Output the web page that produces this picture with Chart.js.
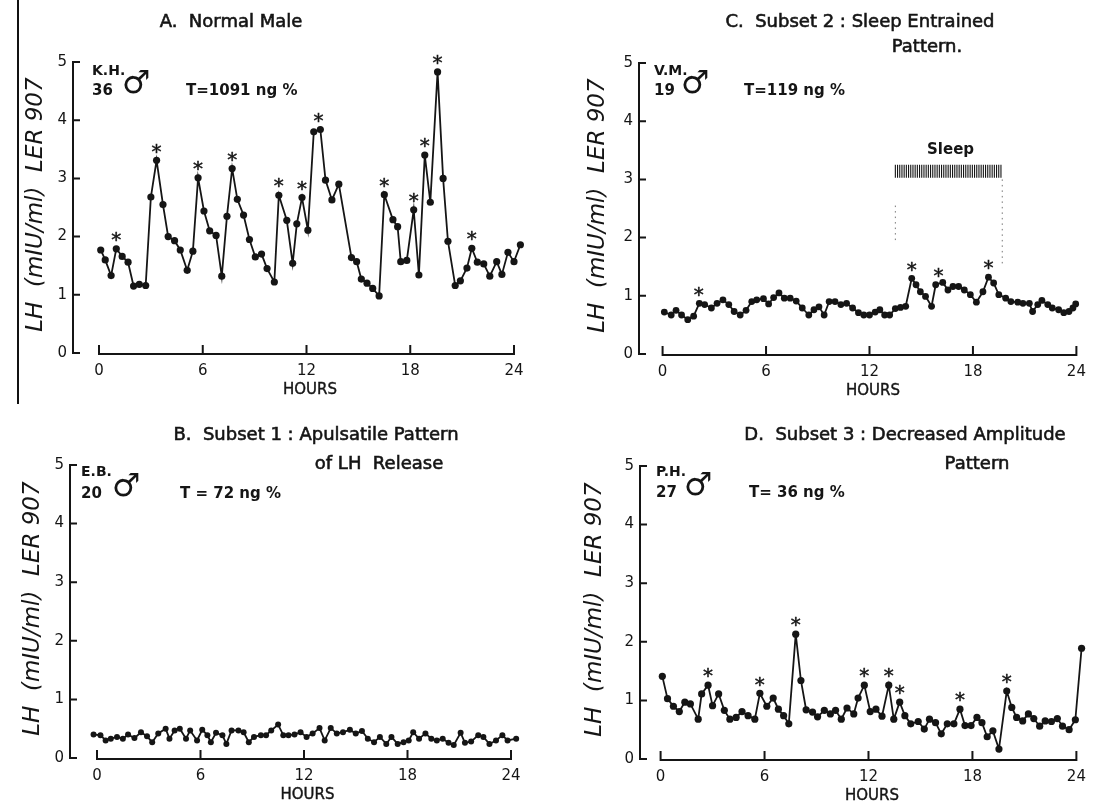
<!DOCTYPE html>
<html>
<head>
<meta charset="utf-8">
<script src="https://cdn.jsdelivr.net/npm/chart.js@4.4.0/dist/chart.umd.min.js"></script>
<style>
  body { margin: 0; background: #fff; width: 1095px; height: 803px; overflow: hidden; position: relative; }
  canvas { position: absolute; }
  #edge { position: absolute; left: 17px; top: 0; width: 2px; height: 404px; background: #111; }
</style>
</head>
<body>
<div id="edge"></div>
<canvas id="chartA" width="547" height="400" style="left:0;top:0"></canvas>
<canvas id="chartC" width="547" height="400" style="left:548px;top:0"></canvas>
<canvas id="chartB" width="547" height="400" style="left:0;top:403px"></canvas>
<canvas id="chartD" width="547" height="400" style="left:548px;top:403px"></canvas>
<script>
// tick labels
const xTicks = [0, 6, 12, 18, 24];
const yTicks = [0, 1, 2, 3, 4, 5];

// A. Normal male (K.H.)
const hoursA = [0.1,0.36,0.7,1.0,1.34,1.68,2.0,2.33,2.7,3.0,3.33,3.7,4.0,4.37,4.7,5.1,5.43,5.73,6.07,6.4,
  6.77,7.1,7.4,7.7,8.0,8.36,8.7,9.04,9.4,9.72,10.14,10.4,10.86,11.2,11.44,11.74,12.08,12.42,12.8,13.1,
  13.47,13.87,14.6,14.9,15.17,15.5,15.83,16.2,16.5,17.0,17.27,17.45,17.8,18.2,18.5,18.84,19.16,19.58,19.9,20.18,
  20.6,20.9,21.28,21.56,21.88,22.25,22.6,23.0,23.3,23.65,24.0,24.37];
const lhA = [1.77,1.60,1.33,1.79,1.66,1.56,1.15,1.18,1.16,2.68,3.31,2.55,2.0,1.93,1.77,1.42,1.75,3.01,2.44,2.10,
  2.02,1.32,2.35,3.17,2.64,2.37,1.95,1.65,1.70,1.45,1.22,2.71,2.28,1.54,2.22,2.67,2.11,3.80,3.84,2.97,
  2.63,2.90,1.64,1.57,1.27,1.20,1.11,0.98,2.72,2.29,2.17,1.57,1.59,2.46,1.34,3.40,2.59,4.83,3.0,1.92,
  1.16,1.24,1.46,1.80,1.56,1.53,1.32,1.57,1.35,1.73,1.57,1.86];
const peaksA = [1.0,3.33,5.73,7.7,10.4,11.74,12.7,16.5,18.2,18.84,19.58,21.56];

// B. Subset 1 (E.B.)
const hoursB = [-0.2,0.2,0.5,0.8,1.16,1.5,1.8,2.17,2.55,2.9,3.2,3.55,3.98,4.2,4.5,4.8,5.16,5.4,5.8,6.1,
  6.4,6.6,6.9,7.27,7.5,7.8,8.2,8.5,8.8,9.1,9.5,9.8,10.1,10.5,10.8,11.1,11.45,11.8,12.15,12.5,
  12.9,13.2,13.55,13.9,14.26,14.66,15.0,15.36,15.7,16.06,16.4,16.77,17.07,17.43,17.77,18.07,18.33,18.67,19.04,19.38,
  19.7,20.04,20.38,20.68,21.08,21.33,21.69,22.1,22.4,22.75,23.13,23.5,23.8,24.3];
const lhB = [0.40,0.39,0.30,0.33,0.36,0.33,0.40,0.34,0.44,0.37,0.27,0.42,0.50,0.33,0.47,0.50,0.33,0.47,0.30,0.48,
  0.39,0.27,0.43,0.39,0.24,0.47,0.47,0.44,0.27,0.36,0.39,0.39,0.47,0.57,0.39,0.39,0.40,0.44,0.36,0.42,
  0.51,0.30,0.51,0.42,0.44,0.48,0.42,0.46,0.33,0.27,0.36,0.24,0.36,0.24,0.27,0.30,0.44,0.33,0.42,0.33,
  0.30,0.33,0.26,0.22,0.43,0.26,0.28,0.39,0.36,0.24,0.30,0.39,0.30,0.33];

// C. Subset 2 (V.M.)
const hoursC = [0.1,0.5,0.78,1.1,1.46,1.8,2.13,2.44,2.83,3.16,3.5,3.84,4.15,4.5,4.84,5.17,5.46,5.85,
  6.15,6.44,6.75,7.06,7.4,7.75,8.1,8.48,8.78,9.07,9.37,9.66,10.0,10.34,10.67,11.02,11.36,11.67,
  12.0,12.33,12.6,12.88,13.17,13.5,13.8,14.1,14.45,14.7,14.95,15.25,15.6,15.84,16.25,16.55,16.84,17.17,
  17.5,17.85,18.2,18.58,18.9,19.2,19.5,19.9,20.2,20.6,20.9,21.27,21.46,21.76,22.0,22.34,22.6,22.97,
  23.27,23.57,23.8,23.96];
const lhC = [0.72,0.67,0.75,0.67,0.59,0.65,0.87,0.85,0.79,0.87,0.93,0.85,0.73,0.67,0.75,0.90,0.93,0.95,
  0.86,0.97,1.05,0.96,0.96,0.91,0.79,0.67,0.76,0.81,0.67,0.90,0.90,0.85,0.87,0.79,0.71,0.67,
  0.67,0.72,0.76,0.67,0.67,0.78,0.80,0.82,1.30,1.19,1.07,0.99,0.82,1.19,1.23,1.10,1.16,1.16,
  1.10,1.02,0.89,1.07,1.32,1.22,1.02,0.96,0.90,0.89,0.87,0.87,0.73,0.85,0.92,0.85,0.79,0.76,
  0.71,0.73,0.79,0.86];
const peaksC = [2.1,14.45,16.0,18.9];
const sleepC = [13.5, 19.7];

// D. Subset 3 (P.H.)
const hoursD = [0.1,0.4,0.74,1.08,1.4,1.72,2.17,2.37,2.74,3.0,3.35,3.68,4.0,4.36,4.7,5.05,5.44,5.73,6.13,6.5,
  6.8,7.1,7.4,7.8,8.1,8.4,8.77,9.06,9.45,9.8,10.1,10.43,10.76,11.15,11.4,11.76,12.1,12.43,12.78,13.17,
  13.46,13.8,14.1,14.44,14.87,15.22,15.52,15.87,16.2,16.55,16.93,17.28,17.57,17.92,18.26,18.55,18.85,19.18,19.53,19.98,
  20.27,20.55,20.9,21.23,21.54,21.88,22.2,22.56,22.9,23.2,23.58,23.94,24.3];
const lhD = [1.41,1.03,0.90,0.81,0.97,0.94,0.68,1.11,1.26,0.91,1.11,0.83,0.68,0.71,0.81,0.74,0.68,1.12,0.90,1.04,
  0.85,0.74,0.60,2.13,1.34,0.84,0.80,0.72,0.83,0.77,0.83,0.68,0.87,0.77,1.04,1.26,0.81,0.85,0.73,1.26,
  0.68,0.97,0.74,0.60,0.64,0.51,0.68,0.62,0.43,0.60,0.60,0.85,0.57,0.57,0.71,0.62,0.38,0.48,0.17,1.16,
  0.88,0.71,0.65,0.77,0.69,0.56,0.65,0.64,0.69,0.56,0.50,0.67,1.89];
const peaksD = [2.74,5.73,7.8,11.76,13.17,13.8,17.28,19.98];

const INK = '#151515';
const FONT = '"DejaVu Sans", sans-serif';
const yTitle = 'LH  (mIU/ml)  LER 907';

// draw text a little heavier than the regular face, like the printed figure
function inkText(ctx, text, x, y, weight) {
  ctx.fillText(text, x, y);
  ctx.lineWidth = weight;
  ctx.strokeText(text, x, y);
}

function makePanel(canvasId, p) {
  const canvas = document.getElementById(canvasId);
  const W = canvas.width, H = canvas.height;
  const perHour = (p.x24 - p.x0) / 24;
  const xMin = (p.axisX - p.x0) / perHour;
  const xMax = 24.5;
  const rightPx = p.x0 + xMax * perHour;
  const yW = 40, xH = 47;

  const paper = {
    id: 'paper',
    beforeDatasetsDraw(chart) {
      const { ctx, scales: { x, y } } = chart;
      const ax = x.left, y0 = y.getPixelForValue(0);
      ctx.save();
      ctx.strokeStyle = INK;
      ctx.lineWidth = 2;
      ctx.beginPath();
      ctx.moveTo(ax, y.getPixelForValue(5));
      ctx.lineTo(ax, y0);
      yTicks.forEach(v => {
        const py = y.getPixelForValue(v);
        ctx.moveTo(ax - 1, py);
        ctx.lineTo(ax + 7, py);
      });
      ctx.moveTo(x.getPixelForValue(0), y0 + 1);
      ctx.lineTo(x.getPixelForValue(24), y0 + 1);
      xTicks.forEach(v => {
        const px = x.getPixelForValue(v);
        ctx.moveTo(px, y0 + 2);
        ctx.lineTo(px, y0 - 8);
      });
      ctx.stroke();

      if (p.sleep) {
        const sx0 = x.getPixelForValue(p.sleep[0]), sx1 = x.getPixelForValue(p.sleep[1]);
        const top = y.getPixelForValue(3.25), bot = y.getPixelForValue(3.03);
        ctx.lineWidth = 1.1;
        ctx.beginPath();
        for (let px = sx0; px <= sx1; px += 2.2) {
          ctx.moveTo(px, top);
          ctx.lineTo(px, bot);
        }
        ctx.stroke();
        ctx.setLineDash([1.5, 4]);
        ctx.lineWidth = 1;
        ctx.strokeStyle = '#777';
        ctx.beginPath();
        ctx.moveTo(sx0, y.getPixelForValue(2.55));
        ctx.lineTo(sx0, y.getPixelForValue(1.95));
        ctx.moveTo(sx1, y.getPixelForValue(3.0));
        ctx.lineTo(sx1, y.getPixelForValue(1.55));
        ctx.stroke();
        ctx.setLineDash([]);
        ctx.fillStyle = INK;
        ctx.font = `bold 15px ${FONT}`;
        ctx.textAlign = 'center';
        ctx.textBaseline = 'middle';
        ctx.fillText('Sleep', x.getPixelForValue(16.7), y.getPixelForValue(3.5));
      }
      ctx.restore();
    },
    afterDraw(chart) {
      const { ctx, scales: { x, y } } = chart;
      ctx.save();
      ctx.fillStyle = INK;
      ctx.strokeStyle = INK;
      ctx.textBaseline = 'middle';

      // panel title
      ctx.font = `18px ${FONT}`;
      ctx.textAlign = 'center';
      p.titles.forEach(t => inkText(ctx, t.text, t.x, t.y, 0.6));

      // HOURS
      ctx.font = `15px ${FONT}`;
      inkText(ctx, 'HOURS', x.getPixelForValue(12.2), y.getPixelForValue(0) + 37, 0.4);

      // y axis title
      ctx.save();
      ctx.translate(p.yTitleX, y.getPixelForValue(2.55));
      ctx.rotate(-Math.PI / 2);
      ctx.font = `italic 23px ${FONT}`;
      ctx.fillText(yTitle, 0, 0);
      ctx.restore();

      // subject note
      ctx.textAlign = 'left';
      ctx.font = `bold 14px ${FONT}`;
      ctx.fillText(p.initials, p.noteX, p.noteY1);
      ctx.font = `bold 15px ${FONT}`;
      ctx.fillText(p.age, p.noteX, p.noteY2);
      ctx.fillText(p.testo, p.tX, p.noteY2);
      ctx.font = `32px ${FONT}`;
      ctx.fillText('\u2642', p.maleX, p.noteY2 - 6);

      // pulse asterisks
      if (p.peaks) {
        ctx.textAlign = 'center';
        ctx.font = `20px ${FONT}`;
        p.peaks.forEach(h => {
          let best = 0;
          p.hours.forEach((hh, i) => { if (Math.abs(hh - h) < Math.abs(p.hours[best] - h)) best = i; });
          inkText(ctx, '*', x.getPixelForValue(h), y.getPixelForValue(p.values[best]) - 8, 0.5);
        });
      }
      ctx.restore();
    }
  };

  return new Chart(canvas.getContext('2d'), {
    type: 'line',
    data: {
      datasets: [{
        data: p.hours.map((h, i) => ({ x: h, y: p.values[i] })),
        borderColor: INK,
        backgroundColor: INK,
        borderWidth: 1.8,
        pointRadius: p.radius,
        pointHoverRadius: p.radius,
        pointBorderWidth: 0,
        tension: 0,
        clip: false
      }]
    },
    options: {
      responsive: false,
      animation: false,
      events: [],
      layout: {
        padding: { left: p.axisX - yW, right: W - rightPx, top: p.top, bottom: H - p.bottom - xH }
      },
      plugins: { legend: { display: false }, tooltip: { enabled: false }, title: { display: false } },
      scales: {
        x: {
          type: 'linear',
          min: xMin,
          max: xMax,
          grid: { display: false, drawTicks: false },
          border: { display: false },
          afterBuildTicks: s => { s.ticks = xTicks.map(v => ({ value: v })); },
          afterFit: s => { s.height = xH; },
          ticks: { padding: 9, color: INK, autoSkip: false, maxRotation: 0, font: { family: FONT, size: 15 } }
        },
        y: {
          min: 0,
          max: 5,
          grid: { display: false, drawTicks: false },
          border: { display: false },
          afterBuildTicks: s => { s.ticks = yTicks.map(v => ({ value: v })); },
          afterFit: s => { s.width = yW; },
          ticks: { padding: 6, color: INK, font: { family: FONT, size: 15 } }
        }
      }
    },
    plugins: [paper]
  });
}

makePanel('chartA', {
  hours: hoursA, values: lhA, peaks: peaksA, radius: 3.6,
  axisX: 73, x0: 99, x24: 514, top: 62, bottom: 353,
  titles: [{ text: 'A.  Normal Male', x: 231, y: 22 }],
  yTitleX: 36, initials: 'K.H.', age: '36', testo: 'T=1091 ng %',
  noteX: 92, noteY1: 71, noteY2: 91, maleX: 122, tX: 186
});

makePanel('chartC', {
  hours: hoursC, values: lhC, peaks: peaksC, sleep: sleepC, radius: 3.4,
  axisX: 91, x0: 115, x24: 536, top: 63, bottom: 354,
  titles: [{ text: 'C.  Subset 2 : Sleep Entrained', x: 312, y: 22 }, { text: 'Pattern.', x: 379, y: 47 }],
  yTitleX: 50, initials: 'V.M.', age: '19', testo: 'T=119 ng %',
  noteX: 106, noteY1: 71, noteY2: 91, maleX: 133, tX: 196
});

makePanel('chartB', {
  hours: hoursB, values: lhB, radius: 3,
  axisX: 70, x0: 97, x24: 511, top: 62, bottom: 355,
  titles: [{ text: 'B.  Subset 1 : Apulsatile Pattern', x: 316, y: 32 }, { text: 'of LH  Release', x: 379, y: 61 }],
  yTitleX: 33, initials: 'E.B.', age: '20', testo: 'T = 72 ng %',
  noteX: 81, noteY1: 69, noteY2: 91, maleX: 112, tX: 180
});

makePanel('chartD', {
  hours: hoursD, values: lhD, peaks: peaksD, radius: 3.6,
  axisX: 92, x0: 113, x24: 537, top: 63, bottom: 356,
  titles: [{ text: 'D.  Subset 3 : Decreased Amplitude', x: 357, y: 32 }, { text: 'Pattern', x: 429, y: 61 }],
  yTitleX: 47, initials: 'P.H.', age: '27', testo: 'T= 36 ng %',
  noteX: 108, noteY1: 69, noteY2: 90, maleX: 136, tX: 201
});
</script>
</body>
</html>
